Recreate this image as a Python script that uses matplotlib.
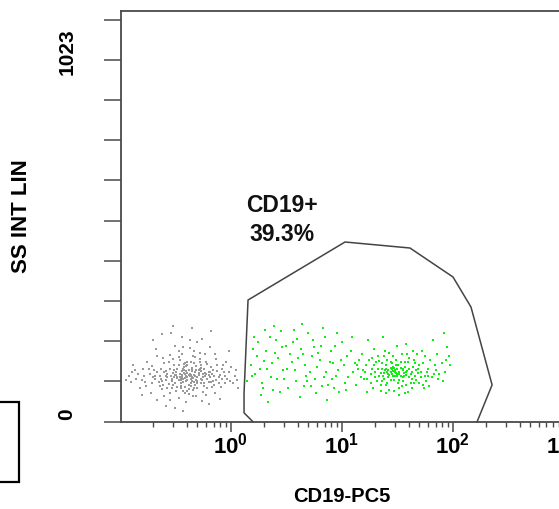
import matplotlib
matplotlib.use("Agg")
import matplotlib.pyplot as plt
from matplotlib.transforms import ScaledTranslation
from matplotlib.patches import Rectangle
import numpy as np

plt.rcParams['font.family'] = ['Liberation Sans', 'DejaVu Sans']
plt.rcParams['mathtext.fontset'] = 'custom'
plt.rcParams['mathtext.rm'] = 'Liberation Sans'
plt.rcParams['mathtext.bf'] = 'Liberation Sans:bold'

# ---------------- data (log10 CD19-PC5, SS INT LIN) ----------------
gray_pairs = [
(-0.40,130),(-0.35,142),(-0.45,118),(-0.30,125),(-0.52,138),(-0.28,150),(-0.38,105),(-0.47,160),(-0.33,112),(-0.58,128),
(-0.22,135),(-0.42,146),(-0.36,121),(-0.50,110),(-0.26,117),(-0.44,133),(-0.31,158),(-0.55,150),(-0.19,127),(-0.39,170),
(-0.48,98),(-0.34,90),(-0.62,115),(-0.24,101),(-0.41,124),(-0.29,139),(-0.53,122),(-0.37,136),(-0.16,145),(-0.66,140),
(-0.21,162),(-0.46,175),(-0.32,182),(-0.57,95),(-0.43,86),(-0.27,108),(-0.70,125),(-0.13,118),(-0.60,165),(-0.35,152),
(-0.49,141),(-0.23,129),(-0.40,114),(-0.30,96),(-0.56,106),(-0.18,155),(-0.44,190),(-0.64,100),(-0.10,132),(-0.74,148),
(-0.38,78),(-0.28,170),(-0.52,178),(-0.15,104),(-0.68,130),(-0.33,200),(-0.47,67),(-0.25,85),(-0.80,118),(-0.06,140),
(-0.42,155),(-0.36,133),(-0.51,127),(-0.27,144),(-0.45,109),(-0.31,119),(-0.58,143),(-0.20,112),(-0.39,161),(-0.62,92),
(-0.12,160),(-0.71,158),(-0.34,72),(-0.55,188),(-0.23,190),(-0.48,124),(-0.29,131),(-0.41,99),(-0.17,136),(-0.65,112),
(-0.84,135),(-0.03,122),(-0.76,102),(-0.09,98),(-0.37,208),(-0.50,215),(-0.22,75),(-0.60,72),(-0.44,240),(-0.30,225),
(-0.54,250),(-0.88,160),(0.00,155),(-0.05,108),(-0.90,112),(-0.72,82),(-0.14,82),(-0.40,55),(-0.58,45),(-0.26,58),
(-0.67,205),(-0.19,210),(-0.82,95),(0.04,130),(-0.46,135),(-0.35,127),(-0.32,140),(-0.43,120),(-0.38,147),(-0.27,122),
(-0.49,131),(-0.53,115),(-0.24,150),(-0.36,100),(-0.41,166),(-0.30,110),(-0.57,134),(-0.20,141),(-0.63,122),(-0.11,126),
(-0.45,95),(-0.33,165),(-0.51,160),(-0.16,116),(-0.69,145),(-0.08,150),(-0.78,128),(-0.01,115),(-0.86,145),(0.06,118),
(-0.92,128),(-0.75,170),(-0.04,170),(-0.61,180),(-0.13,178),(-0.47,200),(-0.28,195),(-0.39,88),(-0.55,80),(-0.21,94),
(-0.43,30),(-0.66,62),(-0.10,65),(-0.80,75),(-0.35,265),(-0.52,270),(-0.18,255),(-0.70,230),(-0.02,200),(0.07,95),
(-0.37,128),(-0.42,138),(-0.33,133),(-0.46,126),(-0.29,137),(-0.39,119),(-0.44,143),(-0.31,146),(-0.50,132),(-0.25,126),
(-0.35,116),(-0.48,150),(-0.40,157),(-0.27,160),(-0.54,130),(-0.21,121),(-0.43,111),(-0.36,169),(-0.58,118),(-0.19,140),
(-0.45,102),(-0.32,104),(-0.60,140),(-0.15,130),(-0.52,104),(-0.24,110),(-0.38,92),(-0.47,182),(-0.28,178),(-0.63,150),
(-0.12,143),(-0.68,120),(-0.08,120),(-0.41,80),(-0.56,170),(-0.22,168),(-0.73,135),(-0.05,130),(-0.34,185),(-0.49,88),
(-0.61,105),(-0.17,98),(-0.77,112),(-0.02,140),(-0.43,210),(-0.31,72),(-0.55,60),(-0.26,235),(-0.66,185),(-0.14,190),
(-0.39,138),(-0.34,124),(-0.44,127),(-0.30,115),(-0.51,145),(-0.23,138),(-0.40,142),(-0.36,110),(-0.47,117),(-0.27,153),
(-0.57,125),(-0.20,132),(-0.42,163),(-0.33,94),(-0.53,96),(-0.18,112),(-0.64,128),(-0.11,110),(-0.71,108),(-0.07,160),
(-0.79,150),(0.02,110),(-0.85,120),(0.05,145),(-0.37,230),(-0.62,248),(-0.50,40),(-0.20,50),(-0.89,140),(-0.94,118),
(-0.45,122),(-0.38,131),(-0.32,128),(-0.29,145),(-0.41,135),(-0.35,148),(-0.48,127),(-0.25,134),(-0.39,125),(-0.43,150),
]
gray_logx = [p[0] for p in gray_pairs]
gray_ss = [p[1] for p in gray_pairs]

green_pairs = [
(0.20,205),(0.25,225),(0.30,172),(0.22,135),(0.35,240),(0.28,110),(0.40,195),(0.45,255),(0.33,150),(0.50,215),
(0.55,170),(0.48,120),(0.60,235),(0.38,90),(0.65,190),(0.58,145),(0.70,250),(0.52,95),(0.75,210),(0.68,130),
(0.80,175),(0.72,100),(0.85,240),(0.78,155),(0.90,200),(0.62,70),(0.95,130),(0.88,105),(1.00,225),(0.92,165),
(1.05,185),(0.98,85),(1.10,140),(0.83,265),(0.27,75),(0.18,160),(0.43,180),(0.57,260),(0.67,160),(0.76,120),
(0.86,140),(0.96,250),(1.03,110),(0.31,260),(0.47,145),(0.63,205),(0.73,185),(0.93,95),(1.08,200),(0.24,185),
(0.36,125),(0.53,190),(0.81,215),(1.12,165),(0.41,230),(0.69,115),(0.99,175),(0.15,115),(0.87,60),(0.34,55),
(1.15,150),(1.20,120),(1.25,175),(1.30,140),(1.35,105),(1.40,160),(1.45,135),(1.50,150),(1.55,125),(1.60,170),
(1.42,145),(1.48,130),(1.52,140),(1.38,120),(1.57,155),(1.46,155),(1.44,118),(1.53,128),(1.36,150),(1.62,135),
(1.65,110),(1.70,160),(1.75,130),(1.80,175),(1.85,145),(1.68,190),(1.73,105),(1.78,150),(1.90,165),(1.95,210),
(1.28,95),(1.33,185),(1.39,200),(1.43,90),(1.49,175),(1.54,100),(1.59,190),(1.63,120),(1.67,145),(1.71,125),
(1.22,160),(1.26,110),(1.31,170),(1.34,130),(1.41,110),(1.47,142),(1.51,160),(1.56,138),(1.61,150),(1.66,165),
(1.18,190),(1.24,230),(1.29,205),(1.37,240),(1.50,215),(1.58,220),(1.72,200),(1.82,230),(1.92,250),(1.97,185),
(1.45,148),(1.47,152),(1.49,138),(1.43,132),(1.55,145),(1.41,140),(1.52,118),(1.58,132),(1.35,138),(1.32,115),
(1.64,155),(1.69,138),(1.76,115),(1.81,125),(1.87,120),(1.21,140),(1.27,150),(1.40,80),(1.60,85),(1.74,95),
(1.13,105),(1.16,175),(1.86,190),(1.93,140),(1.79,100),(1.23,85),(1.52,75),(1.64,200),(1.44,170),(1.36,165),
(0.21,240),(0.26,150),(0.32,200),(0.37,165),(0.42,120),(0.46,210),(0.51,150),(0.56,225),(0.61,180),(0.66,100),
(0.71,140),(0.74,230),(0.79,195),(0.84,125),(0.89,170),(0.94,215),(0.97,145),(1.02,160),(1.06,125),(1.09,240),
(0.29,95),(0.44,85),(0.59,115),(0.77,80),(0.91,120),(1.04,90),(0.19,130),(0.39,270),(0.64,275),(0.82,100),
(1.44,140),(1.46,128),(1.48,146),(1.50,135),(1.53,152),(1.42,125),(1.39,145),(1.56,130),(1.59,142),(1.61,125),
(1.37,130),(1.33,150),(1.30,125),(1.63,140),(1.66,130),(1.69,150),(1.71,140),(1.73,165),(1.77,140),(1.83,135),
(1.47,118),(1.51,110),(1.55,115),(1.40,105),(1.36,115),(1.58,105),(1.62,108),(1.67,118),(1.45,165),(1.49,160),
(1.53,170),(1.41,175),(1.57,168),(1.61,180),(1.26,135),(1.23,120),(1.19,145),(1.29,160),(1.34,172),(1.38,185),
(1.46,185),(1.54,190),(1.65,175),(1.70,110),(1.78,130),(1.84,160),(1.88,135),(1.91,115),(1.94,175),(1.98,160),
(1.17,125),(1.14,160),(1.27,180),(1.43,195),(1.52,95),(1.47,88),(1.63,95),(1.57,82),(1.35,88),(1.75,185),
(1.48,140),(1.50,128),(1.44,152),(1.52,134),(1.42,136),(1.55,150),(1.46,142),(1.40,150),(1.58,140),(1.38,138),
]
green_logx = [p[0] for p in green_pairs]
green_ss = [p[1] for p in green_pairs]

gate_logx = [0.20, 0.12, 0.12, 0.156, 1.03, 1.615, 2.003, 2.165, 2.355, 2.22]
gate_ss = [0, 25, 81, 344, 508, 491, 409, 324, 104, 0]

gate_name = "CD19+"
gate_pct = "39.3%"
xtick_vals = [1, 10, 100, 1000]
xtick_labels = [r'$\mathbf{10^{0}}$', r'$\mathbf{10^{1}}$', r'$\mathbf{10^{2}}$', r'$\mathbf{10^{3}}$']
ss_max_label = 1023

# ---------------- figure ----------------
W, H = 559, 509
fig = plt.figure(figsize=(W / 100, H / 100), dpi=100)
ax_left, ax_right, ax_top, ax_bot = 121.3, 570.0, 11.0, 421.7
ax = fig.add_axes([ax_left / W, 1 - ax_bot / H, (ax_right - ax_left) / W, (ax_bot - ax_top) / H])

spine_col = '#4a4a4a'
ax.set_xscale('log')
ax.set_xlim(10 ** -0.986, 10 ** 3.057)
ax.set_ylim(0, 1161)

ax.scatter(10 ** np.array(gray_logx), gray_ss, s=3.6, marker='s', color='#999999', linewidths=0, zorder=2)
ax.scatter(10 ** np.array(green_logx), green_ss, s=4.2, marker='s', color='#11ee11', linewidths=0, zorder=2)

ax.plot(10 ** np.array(gate_logx), gate_ss, color='#444444', lw=1.1, zorder=3, clip_on=False)

ax.text(10 ** 0.465, 611, gate_name, ha='center', va='center', fontsize=16.5, fontweight='bold', color='#111111')
ax.text(10 ** 0.465, 528, gate_pct, ha='center', va='center', fontsize=16.5, fontweight='bold', color='#111111')

for s in ax.spines.values():
    s.set_color(spine_col)
    s.set_linewidth(1.3)

# x ticks
ax.set_xticks(xtick_vals)
ax.set_xticklabels(xtick_labels, fontsize=16)
ax.xaxis.set_minor_locator(matplotlib.ticker.LogLocator(base=10, subs=np.arange(2, 10)))
ax.xaxis.set_minor_formatter(matplotlib.ticker.NullFormatter())
ax.tick_params(axis='x', which='major', direction='out', length=7.5, width=1.1, color=spine_col, pad=0)
ax.tick_params(axis='x', which='minor', direction='out', length=3.8, width=1.0, color=spine_col)

# y ticks
yt = [ss_max_label * k / 9 for k in range(11)]
ax.set_yticks(yt)
ylabels = ['' for _ in yt]
ylabels[0] = '0'
ylabels[9] = str(ss_max_label)
ax.set_yticklabels(ylabels, rotation=90, va='center', fontsize=15, fontweight='bold')
ax.tick_params(axis='y', which='major', direction='out', length=12.3, width=1.1, color=spine_col, pad=20)
for lbl in ax.get_yticklabels():
    lbl.set_transform(lbl.get_transform() + ScaledTranslation(0, 0.08, fig.dpi_scale_trans))

fig.text(342 / W, 1 - 496 / H, "CD19-PC5", ha='center', va='center', fontsize=14.5, fontweight='bold')
fig.text(22 / W, 1 - 216 / H, "SS INT LIN", ha='center', va='center', rotation=90, fontsize=16, fontweight='bold')

# partial box at lower-left edge
fig.patches.append(Rectangle((-10 / W, 1 - 481.7 / H), 29 / W, 80 / H, transform=fig.transFigure,
                             fill=False, edgecolor='black', linewidth=1.6))

fig.savefig("out.png", dpi=100)
